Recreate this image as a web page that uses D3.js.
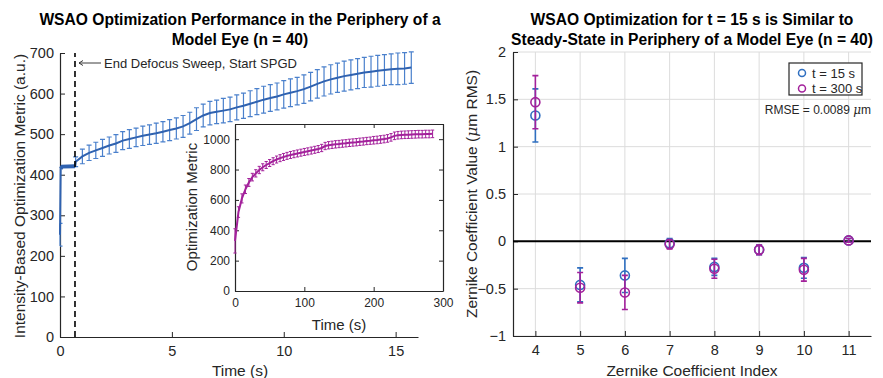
<!DOCTYPE html>
<html>
<head>
<meta charset="utf-8">
<script src="https://d3js.org/d3.v7.min.js"></script>
<style>
  body { margin: 0; background: #fff; }
  svg { font-family: "Liberation Sans", Arial, sans-serif; }
  .tick text { fill: #262626; }
  .domain, .tick line { stroke: #262626; }
</style>
</head>
<body>
<svg id="chart" width="883" height="378"></svg>
<script>
// ---- left panel: defocus sweep part (t < 0.7 s) ----
const preTime = [0, 0.03, 0.1, 0.67];
const preMean = [252, 415, 420, 421];

// ---- left panel: SPGD part, mean and std at each error bar ----
const spgdTime = [0.7, 1.0, 1.3, 1.6, 1.9, 2.2, 2.5, 2.8, 3.1, 3.4, 3.7, 4.0, 4.3, 4.6, 4.9,
  5.2, 5.5, 5.8, 6.1, 6.4, 6.7, 7.0, 7.3, 7.6, 7.9, 8.2, 8.5, 8.8, 9.1, 9.4, 9.7, 10.0,
  10.3, 10.6, 10.9, 11.2, 11.5, 11.8, 12.1, 12.4, 12.7, 13.0, 13.3, 13.6, 13.9, 14.2,
  14.5, 14.8, 15.1, 15.4, 15.7];
const spgdMean = [432, 445, 454, 460, 466, 472, 477, 484, 488, 492, 496, 499, 502, 506, 510,
  514, 519, 527, 537, 546, 552, 555, 558, 561, 566, 570, 575, 580, 585, 589, 593, 598,
  602, 606, 611, 617, 624, 630, 635, 639, 643, 646, 649, 652, 654, 656,
  658, 660, 661, 662, 664];
const spgdStd = [12, 18, 19, 20, 21, 21, 22, 22, 23, 23, 24, 24, 25, 25, 26,
  26, 27, 27, 28, 28, 29, 29, 30, 30, 31, 31, 32, 32, 33, 33, 33, 34,
  34, 34, 35, 35, 35, 36, 36, 36, 37, 37, 37, 37, 38, 38,
  38, 38, 39, 39, 39];
const markerTime = 0.67;

// ---- inset: long run to 300 s ----
const insetTime = [0, 5, 10, 15, 20, 25, 30, 35, 40, 45, 50, 55, 60, 65, 70, 75, 80, 85, 90, 95,
  100, 105, 110, 115, 120, 125, 130, 135, 140, 145, 150, 155, 160, 165, 170, 175, 180, 185,
  190, 195, 200, 205, 210, 215, 220, 225, 230, 235, 240, 245, 250, 255, 260, 265, 270, 275,
  280, 285];
const insetMean = [330, 520, 610, 670, 715, 750, 775, 797, 815, 830, 843, 855, 866, 875, 883, 890,
  896, 901, 906, 911, 916, 920, 925, 930, 935, 942, 955, 960, 963, 966, 968, 971, 973, 976,
  978, 980, 983, 985, 988, 990, 993, 995, 998, 1001, 1005, 1012, 1022, 1026, 1028, 1029,
  1030, 1031, 1032, 1033, 1033, 1034, 1034, 1035];
const insetStd = [80, 35, 30, 28, 26, 25, 24, 24, 23, 23, 23, 23, 23, 23, 23, 23,
  23, 23, 23, 23, 23, 23, 23, 23, 23, 24, 24, 24, 24, 24, 24, 24, 24, 24,
  24, 24, 24, 24, 24, 24, 25, 25, 25, 25, 25, 25, 25, 25, 25, 25,
  25, 25, 25, 25, 25, 25, 25, 25];

// ---- right panel: Zernike coefficients ----
const zernikeIndex = [4, 5, 6, 7, 8, 9, 10, 11];
const coef15 = [1.33, -0.46, -0.36, -0.02, -0.27, -0.09, -0.28, 0.01];
const err15 = [0.28, 0.18, 0.18, 0.05, 0.09, 0.05, 0.11, 0.02];
const coef300 = [1.47, -0.49, -0.54, -0.03, -0.29, -0.09, -0.30, 0.01];
const err300 = [0.28, 0.16, 0.18, 0.05, 0.10, 0.05, 0.12, 0.02];
const rmseText = 'RMSE = 0.0089 ';

const blue = '#2f62b0', blueBar = '#4a80cc', magenta = '#a3219b', ink = '#262626';

const svg = d3.select('#chart');

function inwardAxis(g, axis) {
  g.call(axis);
  g.selectAll('.domain').attr('stroke-width', 1.2);
}

// =============== LEFT PANEL ===============
const x1 = d3.scaleLinear().domain([0, 16]).range([60, 418]);
const y1 = d3.scaleLinear().domain([0, 700]).range([337, 53]);

svg.append('g').attr('transform', 'translate(0,337)')
  .call(g => inwardAxis(g, d3.axisBottom(x1).tickValues([0, 5, 10, 15]).tickSizeInner(-5).tickSizeOuter(0).tickPadding(9)))
  .selectAll('text').attr('font-size', 14.5);
svg.append('g').attr('transform', 'translate(60,0)')
  .call(g => inwardAxis(g, d3.axisLeft(y1).ticks(7).tickSizeInner(-5).tickSizeOuter(0).tickPadding(6)))
  .selectAll('text').attr('font-size', 14.5);

// error bars
const spgd = spgdTime.map((t, i) => ({t, m: spgdMean[i], s: spgdStd[i]}));
const eb = svg.append('g').attr('stroke', blueBar).attr('stroke-width', 1.2).attr('fill', 'none');
eb.selectAll('path').data(spgd).enter().append('path')
  .attr('d', d => {
    const xc = x1(d.t), yt = y1(d.m + d.s), yb = y1(d.m - d.s);
    return `M${xc},${yt}V${yb}M${xc - 2.5},${yt}H${xc + 2.5}M${xc - 2.5},${yb}H${xc + 2.5}`;
  });
// first error bar of the sweep
eb.append('path').attr('d', () => {
  const xc = x1(preTime[0]), yt = y1(preMean[0] + 28), yb = y1(preMean[0] - 28);
  return `M${xc},${yt}V${yb}M${xc},${yt}H${xc + 2.5}M${xc},${yb}H${xc + 2.5}`;
});

const line1 = d3.line().x(d => x1(d[0])).y(d => y1(d[1]));
const allPts = preTime.map((t, i) => [t, preMean[i]]).concat(spgdTime.map((t, i) => [t, spgdMean[i]]));
svg.append('path').datum(allPts).attr('d', line1)
  .attr('fill', 'none').attr('stroke', blue).attr('stroke-width', 2);
svg.append('path').datum(preTime.slice(1).map((t, i) => [t, preMean[i + 1]])).attr('d', line1)
  .attr('fill', 'none').attr('stroke', blue).attr('stroke-width', 4);

// dashed marker
svg.append('line').attr('x1', x1(markerTime)).attr('x2', x1(markerTime))
  .attr('y1', y1(0)).attr('y2', y1(700))
  .attr('stroke', '#000').attr('stroke-width', 1.6).attr('stroke-dasharray', '6,4');

// annotation arrow
const ay = 63;
svg.append('path').attr('d', `M101,${ay}H79M83,${ay - 2.5}L79,${ay}L83,${ay + 2.5}`)
  .attr('stroke', ink).attr('stroke-width', 0.9).attr('fill', 'none');
svg.append('text').attr('x', 104).attr('y', ay + 4.5).attr('font-size', 13).attr('fill', ink)
  .text('End Defocus Sweep, Start SPGD');

// labels
svg.append('text').attr('x', 240).attr('y', 376).attr('text-anchor', 'middle')
  .attr('font-size', 15.5).attr('fill', ink).text('Time (s)');
svg.append('text').attr('transform', 'translate(25,196) rotate(-90)').attr('text-anchor', 'middle')
  .attr('font-size', 15.5).attr('fill', ink).text('Intensity-Based Optimization Metric (a.u.)');
svg.append('text').attr('x', 240).attr('y', 25).attr('text-anchor', 'middle')
  .attr('font-size', 15.6).attr('font-weight', 'bold').attr('fill', '#000')
  .text('WSAO Optimization Performance in the Periphery of a');
svg.append('text').attr('x', 240).attr('y', 45).attr('text-anchor', 'middle')
  .attr('font-size', 15.6).attr('font-weight', 'bold').attr('fill', '#000')
  .text('Model Eye (n = 40)');

// =============== INSET ===============
const xi = d3.scaleLinear().domain([0, 300]).range([235, 443]);
const yi = d3.scaleLinear().domain([0, 1100]).range([291, 124]);

svg.append('rect').attr('x', 235).attr('y', 124).attr('width', 208).attr('height', 167).attr('fill', '#fff');
svg.append('g').attr('transform', 'translate(0,291)')
  .call(g => inwardAxis(g, d3.axisBottom(xi).ticks(3).tickSizeInner(-4).tickSizeOuter(0).tickPadding(7)))
  .selectAll('text').attr('font-size', 12);
svg.append('g').attr('transform', 'translate(235,0)')
  .call(g => inwardAxis(g, d3.axisLeft(yi).tickValues([0, 200, 400, 600, 800, 1000]).tickFormat(d3.format('d')).tickSizeInner(-4).tickSizeOuter(0).tickPadding(5)))
  .selectAll('text').attr('font-size', 12);
svg.append('g').attr('transform', 'translate(0,124)')
  .call(g => inwardAxis(g, d3.axisTop(xi).ticks(3).tickSizeInner(-4).tickSizeOuter(0).tickFormat('')));
svg.append('g').attr('transform', 'translate(443,0)')
  .call(g => inwardAxis(g, d3.axisRight(yi).tickValues([0, 200, 400, 600, 800, 1000]).tickSizeInner(-4).tickSizeOuter(0).tickFormat('')));

const ins = insetTime.map((t, i) => ({t, m: insetMean[i], s: insetStd[i]}));
svg.append('g').attr('stroke', magenta).attr('stroke-width', 1).attr('fill', 'none')
  .selectAll('path').data(ins).enter().append('path')
  .attr('d', d => {
    const xc = xi(d.t), yt = yi(d.m + d.s), yb = yi(d.m - d.s);
    return `M${xc},${yt}V${yb}M${xc - 1.6},${yt}H${xc + 1.6}M${xc - 1.6},${yb}H${xc + 1.6}`;
  });
svg.append('path').datum(ins).attr('d', d3.line().x(d => xi(d.t)).y(d => yi(d.m)))
  .attr('fill', 'none').attr('stroke', magenta).attr('stroke-width', 2);

svg.append('text').attr('x', 339).attr('y', 330).attr('text-anchor', 'middle')
  .attr('font-size', 15).attr('fill', ink).text('Time (s)');
svg.append('text').attr('transform', 'translate(197,207) rotate(-90)').attr('text-anchor', 'middle')
  .attr('font-size', 15).attr('fill', ink).text('Optimization Metric');

// =============== RIGHT PANEL ===============
const x2 = d3.scaleLinear().domain([3.5, 11.5]).range([513, 871]);
const y2 = d3.scaleLinear().domain([-1, 2]).range([336, 52]);

const grid = svg.append('g').attr('stroke', '#dcdcdc').attr('stroke-width', 1);
grid.selectAll('.gx').data(zernikeIndex).enter().append('line')
  .attr('x1', d => x2(d)).attr('x2', d => x2(d)).attr('y1', y2(-1)).attr('y2', y2(2));
grid.selectAll('.gy').data(y2.ticks(6)).enter().append('line')
  .attr('x1', x2(3.5)).attr('x2', x2(11.5)).attr('y1', d => y2(d)).attr('y2', d => y2(d));

svg.append('g').attr('transform', 'translate(0,336)')
  .call(g => inwardAxis(g, d3.axisBottom(x2).tickValues(zernikeIndex).tickSizeInner(-5).tickSizeOuter(0).tickPadding(9)))
  .selectAll('text').attr('font-size', 14.5);
svg.append('g').attr('transform', 'translate(513,0)')
  .call(g => inwardAxis(g, d3.axisLeft(y2).ticks(6).tickFormat(d3.format('')).tickSizeInner(-5).tickSizeOuter(0).tickPadding(7)))
  .selectAll('text').attr('font-size', 14.5);

svg.append('line').attr('x1', x2(3.5)).attr('x2', x2(11.5)).attr('y1', y2(0)).attr('y2', y2(0))
  .attr('stroke', '#000').attr('stroke-width', 2);

function drawSeries(vals, errs, color) {
  const pts = zernikeIndex.map((k, i) => ({k, v: vals[i], e: errs[i]}));
  const g = svg.append('g').attr('stroke', color).attr('stroke-width', 1.6).attr('fill', 'none');
  g.selectAll('path').data(pts).enter().append('path')
    .attr('d', d => {
      const xc = x2(d.k), yt = y2(d.v + d.e), yb = y2(d.v - d.e);
      return `M${xc},${yt}V${yb}M${xc - 3},${yt}H${xc + 3}M${xc - 3},${yb}H${xc + 3}`;
    });
  g.selectAll('circle').data(pts).enter().append('circle')
    .attr('cx', d => x2(d.k)).attr('cy', d => y2(d.v)).attr('r', 4.5);
}
drawSeries(coef15, err15, '#2f6fc0');
drawSeries(coef300, err300, magenta);

// legend
const lg = svg.append('g');
lg.append('rect').attr('x', 789).attr('y', 63).attr('width', 73).attr('height', 32)
  .attr('fill', '#fff').attr('stroke', '#262626').attr('stroke-width', 1.2);
[['t = 15 s', '#2f6fc0'], ['t = 300 s', magenta]].forEach(([label, c], i) => {
  const yy = 73 + i * 15.5;
  lg.append('circle').attr('cx', 802).attr('cy', yy).attr('r', 3.5)
    .attr('fill', 'none').attr('stroke', c).attr('stroke-width', 1.5);
  lg.append('text').attr('x', 812).attr('y', yy + 4.5).attr('font-size', 13).attr('fill', ink).text(label);
});

const rm = svg.append('text').attr('x', 871).attr('y', 114).attr('text-anchor', 'end')
  .attr('font-size', 12).attr('fill', ink);
rm.append('tspan').text(rmseText);
rm.append('tspan').attr('font-style', 'italic').attr('font-family', 'DejaVu Serif, serif').text('μ');
rm.append('tspan').text('m');

svg.append('text').attr('x', 692).attr('y', 376).attr('text-anchor', 'middle')
  .attr('font-size', 15.5).attr('fill', ink).text('Zernike Coefficient Index');
const yl = svg.append('text').attr('transform', 'translate(477,194) rotate(-90)').attr('text-anchor', 'middle')
  .attr('font-size', 15.5).attr('fill', ink);
yl.append('tspan').text('Zernike Coefficient Value (');
yl.append('tspan').attr('font-style', 'italic').attr('font-family', 'DejaVu Serif, serif').text('μ');
yl.append('tspan').text('m RMS)');

svg.append('text').attr('x', 692).attr('y', 25).attr('text-anchor', 'middle')
  .attr('font-size', 15.6).attr('font-weight', 'bold').attr('fill', '#000')
  .text('WSAO Optimization for t = 15 s is Similar to');
svg.append('text').attr('x', 692).attr('y', 45).attr('text-anchor', 'middle')
  .attr('font-size', 15.6).attr('font-weight', 'bold').attr('fill', '#000')
  .text('Steady-State in Periphery of a Model Eye (n = 40)');
</script>
</body>
</html>
